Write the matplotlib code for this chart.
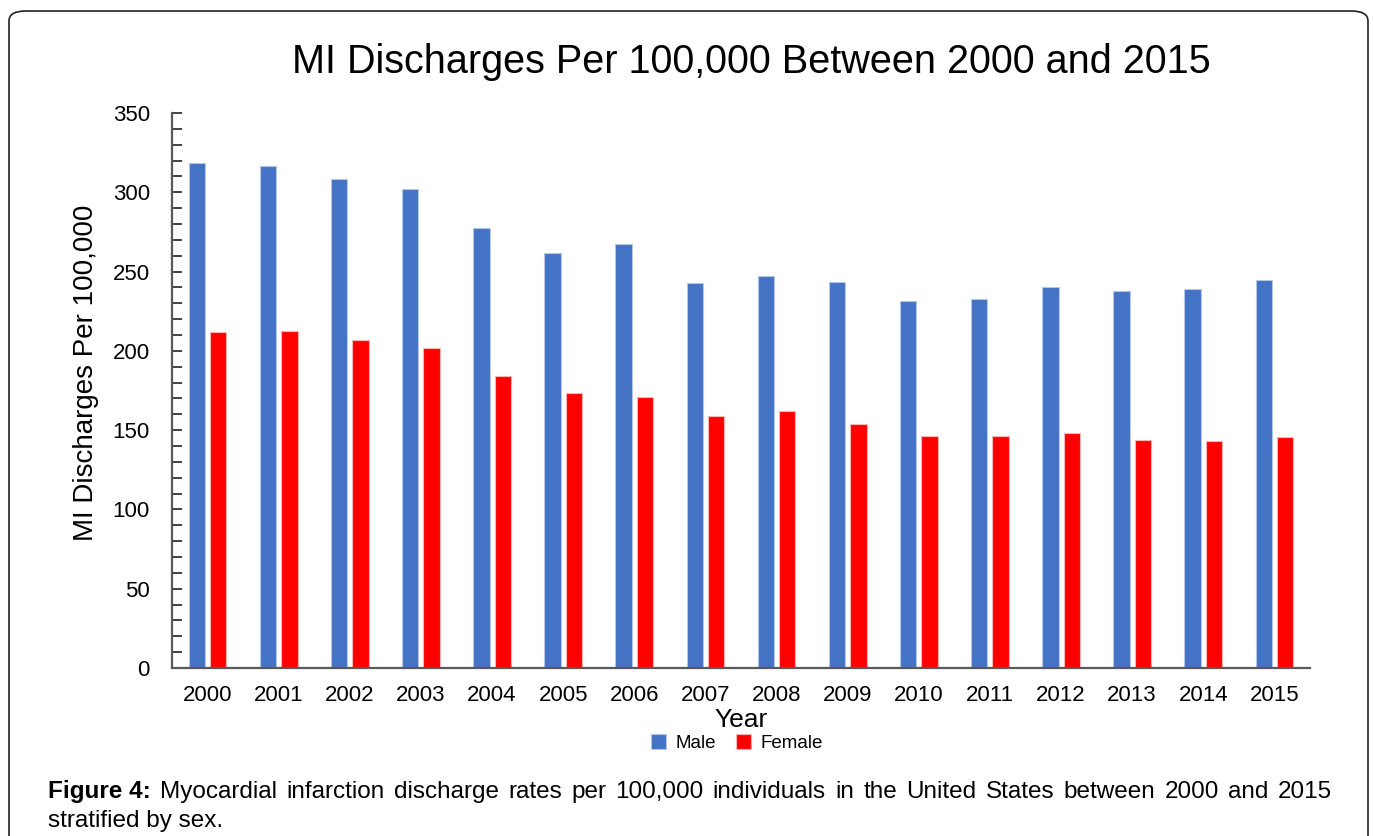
import numpy as np
import matplotlib
matplotlib.use("Agg")
import matplotlib.pyplot as plt
from matplotlib.patches import FancyBboxPatch
from matplotlib.ticker import MultipleLocator

plt.rcParams['font.family'] = ['Liberation Sans', 'DejaVu Sans']

# MI discharges per 100,000, by sex
years = [str(y) for y in range(2000, 2016)]
male = [318.3, 316.4, 308.1, 302.3, 277.7, 261.5, 267.4, 242.8,
        247.2, 243.6, 231.4, 232.7, 240.1, 237.7, 239.2, 244.5]
female = [211.7, 212.3, 206.6, 201.6, 184.1, 173.2, 171.1, 158.7,
          161.9, 153.9, 146.5, 146.5, 148.2, 143.8, 143.0, 145.7]

caption_bold = "Figure 4:"
caption_line1 = ("Myocardial infarction discharge rates per 100,000 individuals "
                 "in the United States between 2000 and 2015")
caption_line2 = "stratified by sex."

W, H = 1373, 836
fig = plt.figure(figsize=(W / 100, H / 100), dpi=100)

# rounded frame around the figure
frame = FancyBboxPatch((9 / W, -0.05), 1359 / W, 1.05 - 11 / H,
                       boxstyle="round,pad=0,rounding_size=0.012",
                       transform=fig.transFigure, fill=False,
                       edgecolor="#222222", linewidth=1.2)
fig.patches.append(frame)

ax = fig.add_axes([172 / W, 1 - 668 / H, (1310 - 172) / W, (668 - 113) / H])

x = np.arange(len(years))
bw = 0.23
ax.bar(x - 0.15, male, width=bw, color="#4472C4", edgecolor="#B4C7E7",
       linewidth=0.8, label="Male")
ax.bar(x + 0.15, female, width=bw, color="#FF0000", edgecolor="#FFB3B3",
       linewidth=0.8, label="Female")

ax.set_xlim(-0.5, len(years) - 0.5)
ax.set_ylim(0, 350)
ax.set_xticks(x)
ax.set_xticklabels(years, fontsize=16)
ax.yaxis.set_major_locator(MultipleLocator(50))
ax.yaxis.set_minor_locator(MultipleLocator(10))
ax.tick_params(axis='x', length=0, pad=12)
ax.tick_params(axis='y', which='both', direction='in', length=7, width=1.3,
               color="#333333", labelsize=16, pad=16)

for s in ("top", "right"):
    ax.spines[s].set_visible(False)
for s in ("left", "bottom"):
    ax.spines[s].set_color("#595959")
    ax.spines[s].set_linewidth(1.6)

fig.text(751 / W, 1 - 62 / H, "MI Discharges Per 100,000 Between 2000 and 2015",
         fontsize=28.5, ha="center", va="center")
fig.text(86 / W, 1 - 373 / H, "MI Discharges Per 100,000", fontsize=20,
         rotation=90, ha="center", va="center")
fig.text(741 / W, 1 - 720 / H, "Year", fontsize=19, ha="center", va="center")

fig.legend(loc="center", bbox_to_anchor=(737 / W, 1 - 743 / H), ncol=2,
           frameon=False, fontsize=13.5, handlelength=0.8, handleheight=0.8,
           handletextpad=0.5, columnspacing=1.1, borderpad=0)

# caption: first line justified between the margins
left_px, right_px = 48, 1332
fig.canvas.draw()
renderer = fig.canvas.get_renderer()
words = [(caption_bold, "bold")] + [(w, "normal") for w in caption_line1.split()]
y1 = 1 - 798 / H
texts = []
for w, weight in words:
    t = fig.text(0, y1, w, fontsize=17.5, fontweight=weight, ha="left",
                 va="baseline")
    texts.append(t)
widths = [t.get_window_extent(renderer).width for t in texts]
gap = (right_px - left_px - sum(widths)) / (len(texts) - 1)
pos = left_px
for t, wd in zip(texts, widths):
    t.set_x(pos / W)
    pos += wd + gap
fig.text(left_px / W, 1 - 827 / H, caption_line2, fontsize=17.5, ha="left",
         va="baseline")

fig.savefig("out.png", dpi=100)
